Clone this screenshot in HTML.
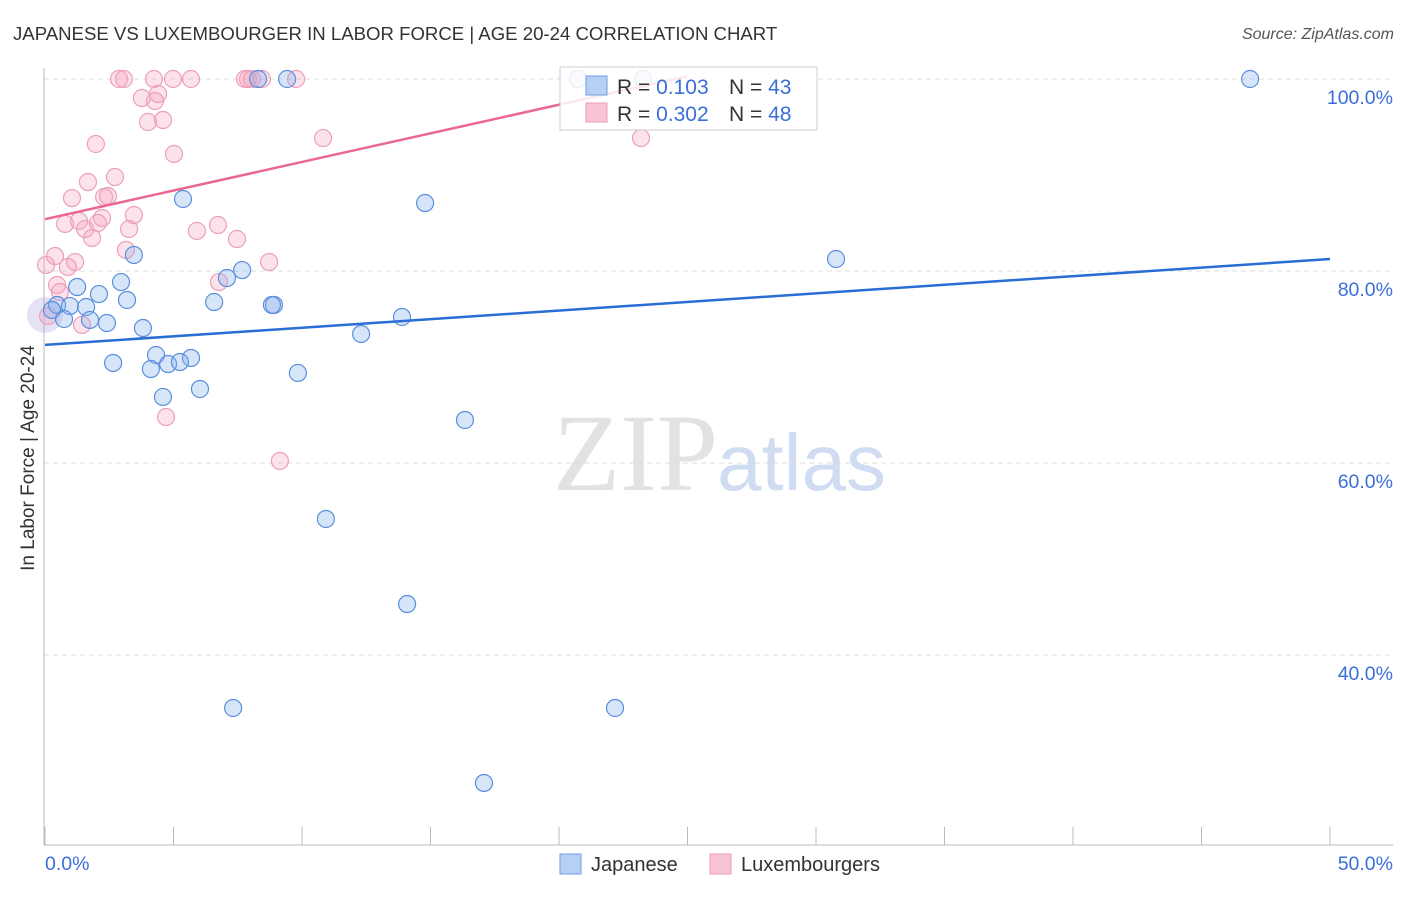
<!DOCTYPE html>
<html><head><meta charset="utf-8"><style>
body{margin:0;background:#fff;font-family:"Liberation Sans",sans-serif;}
</style></head><body>
<svg width="1406" height="892" xmlns="http://www.w3.org/2000/svg">
<text x="13" y="40" font-size="18.6" fill="#333">JAPANESE VS LUXEMBOURGER IN LABOR FORCE | AGE 20-24 CORRELATION CHART</text>
<text x="1394" y="39" font-size="16" fill="#555" font-style="italic" text-anchor="end">Source: ZipAtlas.com</text>
<text x="553" y="490" font-size="110" fill="#e2e2e2" font-family="Liberation Serif,serif">ZIP</text>
<text x="717" y="490" font-size="80" fill="#cfdcf1">atlas</text>
<g id="grid"></g>
<line x1="44" y1="68" x2="44" y2="845" stroke="#bbb"/>
<line x1="44" y1="845" x2="1393" y2="845" stroke="#bbb"/>
<text transform="translate(34,458) rotate(-90)" font-size="19" fill="#333" text-anchor="middle">In Labor Force | Age 20-24</text>
<text x="45" y="870" font-size="19.5" fill="#3a6fd8">0.0%</text>
<text x="1393" y="870" font-size="19.5" fill="#3a6fd8" text-anchor="end">50.0%</text>
<g id="marks"></g>
<g>
<rect x="560" y="67" width="257" height="63" fill="#fff" fill-opacity="0.85" stroke="#ccc"/>
<rect x="586" y="76" width="21" height="19" fill="#b5d0f3" stroke="#6f9ee0"/>
<rect x="586" y="103" width="21" height="19" fill="#f9c5d5" stroke="#eb9ab5"/>
<text x="617" y="94" font-size="21" fill="#333">R = <tspan fill="#3a6fd8">0.103</tspan><tspan x="729">N = </tspan><tspan fill="#3a6fd8">43</tspan></text>
<text x="617" y="121" font-size="21" fill="#333">R = <tspan fill="#3a6fd8">0.302</tspan><tspan x="729">N = </tspan><tspan fill="#3a6fd8">48</tspan></text>
</g>
<g><rect x="560" y="854" width="21" height="20" fill="#b5d0f3" stroke="#6f9ee0"/><text x="591" y="871" font-size="20" fill="#333">Japanese</text></g>
<g><rect x="710" y="854" width="21" height="20" fill="#f9c5d5" stroke="#eb9ab5"/><text x="741" y="871" font-size="20" fill="#333">Luxembourgers</text></g>
</svg>
<script>
const jpX=[20.74,23.27,8.29,9.42,46.89,5.37,14.79,3.46,30.78,7.67,7.08,2.96,1.25,2.10,3.19,6.58,8.91,8.83,0.47,0.97,1.60,0.27,13.89,0.74,1.75,2.41,3.81,12.30,4.32,5.68,2.65,4.79,5.25,4.12,9.84,6.03,4.59,16.34,10.93,14.09,7.32,22.18,17.08];
const jpY=[100,100,100,100,100,87.5,87.08,81.67,81.25,80.1,79.27,78.85,78.33,77.6,76.98,76.77,76.46,76.46,76.46,76.35,76.25,75.94,75.21,75.0,74.9,74.58,74.06,73.44,71.25,70.94,70.42,70.31,70.52,69.79,69.38,67.71,66.88,64.48,54.17,45.31,34.48,34.48,26.67];
const lxX=[2.88,3.07,4.24,4.98,5.68,7.90,8.05,8.44,9.77,7.78,3.77,4.28,4.40,4.01,4.59,10.82,23.19,1.98,5.02,2.72,1.67,2.45,1.05,2.30,3.46,2.22,0.78,1.32,2.06,1.56,3.27,5.91,6.73,1.83,7.47,3.15,0.39,0.04,1.17,0.89,8.72,6.77,0.47,0.58,1.44,4.71,9.14,0.12];
const lxY=[100,100,100,100,100,100,100,100,100,100,98.02,97.71,98.44,95.52,95.73,93.85,93.85,93.23,92.19,89.79,89.27,87.81,87.6,87.71,85.83,85.52,84.9,85.21,85.0,84.38,84.38,84.17,84.79,83.44,83.33,82.19,81.56,80.63,80.94,80.42,80.94,78.85,78.54,77.81,74.38,64.79,60.21,75.31];
const jpTrend=[72.3,81.25];   // y at x=0 and x=50
const lxTrend=[85.4,100.3];   // y at x=0 and x=25
const yTicks=[100,80,60,40];
const xTicks=[0,5,10,15,20,25,30,35,40,45,50];
const NS='http://www.w3.org/2000/svg';
const sx=v=>45+v*25.7, sy=v=>79+(100-v)*9.6;
const grid=document.getElementById('grid'), marks=document.getElementById('marks');
function mk(tag,at,par){const e=document.createElementNS(NS,tag);for(const k in at)e.setAttribute(k,at[k]);par.appendChild(e);return e;}
yTicks.forEach(t=>{
 const l=mk('line',{x1:44,x2:1393,y1:sy(t),y2:sy(t),stroke:'#ddd','stroke-dasharray':'5,4'},grid);
 
 
 const tx=mk('text',{x:1393,y:sy(t)+25,'font-size':19.5,fill:'#3a6fd8','text-anchor':'end'},grid);
 tx.textContent=t.toFixed(1)+'%';
 
 
});
xTicks.forEach(t=>{
 const l=mk('line',{x1:sx(t),x2:sx(t),y1:827,y2:845,stroke:'#bbb'},grid);
 
 
});
const big=mk('circle',{cx:45,cy:315,r:18,fill:'rgba(170,160,220,0.3)'},marks);


lxX.forEach((x,i)=>{
 const c=mk('circle',{cx:sx(x),cy:sy(lxY[i]),r:8.5,fill:'rgba(244,160,188,0.3)',stroke:'#eca0ba','stroke-width':1.2},marks);
 
 
});
jpX.forEach((x,i)=>{
 const c=mk('circle',{cx:sx(x),cy:sy(jpY[i]),r:8.5,fill:'rgba(130,175,235,0.32)',stroke:'#5b8fdc','stroke-width':1.2},marks);
 
 
});
const t1=mk('line',{x1:sx(0),y1:sy(jpTrend[0]),x2:sx(50),y2:sy(jpTrend[1]),stroke:'#2a6dd4','stroke-width':2.5},marks);


const t2=mk('line',{x1:sx(0),y1:sy(lxTrend[0]),x2:sx(25),y2:sy(lxTrend[1]),stroke:'#e8688f','stroke-width':2.5},marks);


</script>
</body></html>
